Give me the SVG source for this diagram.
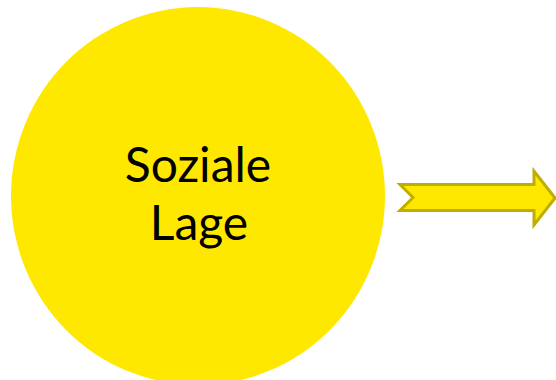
<svg xmlns="http://www.w3.org/2000/svg" width="556" height="380" viewBox="0 0 556 380">
<style>
.lbl{font-family:Lato,"Open Sans","Liberation Sans",sans-serif;font-size:48px;fill:#000;text-anchor:middle}
</style>
<rect width="556" height="380" fill="#fff"/>
<g id="soziale-lage">
<ellipse cx="198" cy="196" rx="187" ry="189" fill="#FFE800"/>
<text class="lbl" x="198" y="182">Soziale</text>
<text class="lbl" x="199" y="240">Lage</text>
</g>
<g id="connectors">
<path d="M400,184.5 L534,184.5 L534,171 L555,198 L534,225 L534,210.5 L400,210.5 L413,197.5 Z" fill="#FFE800" stroke="#BFAE00" stroke-width="3"/>
</g>
</svg>
